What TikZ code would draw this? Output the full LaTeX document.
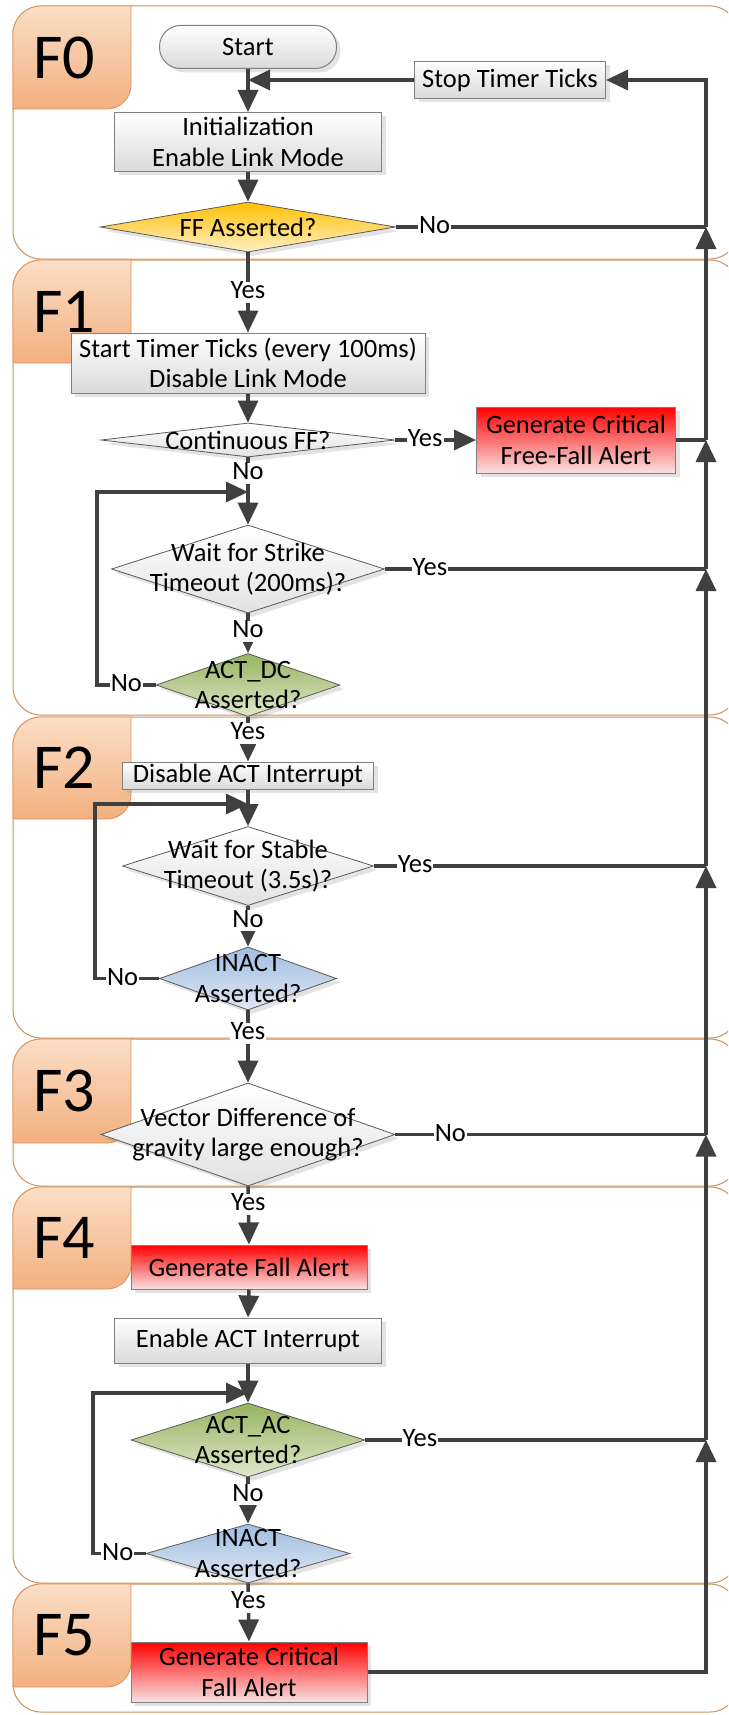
\documentclass[tikz,border=0pt]{standalone}
\usepackage{fontspec}
\setmainfont{Carlito}
\usetikzlibrary{shapes.geometric,arrows.meta,shadows}

\definecolor{wire}{RGB}{64,64,64}
\definecolor{laneline}{RGB}{205,145,95}
\definecolor{tabtop}{RGB}{251,222,198}
\definecolor{tabbot}{RGB}{242,176,128}
\definecolor{tabline}{RGB}{222,145,85}
\definecolor{boxline}{RGB}{128,128,128}
\definecolor{boxbot}{RGB}{218,218,218}
\definecolor{redbot}{RGB}{248,226,226}
\definecolor{goldtop}{RGB}{255,192,0}
\definecolor{goldbot}{RGB}{255,240,200}
\definecolor{greentop}{RGB}{150,180,95}
\definecolor{greenbot}{RGB}{222,232,202}
\definecolor{bluetop}{RGB}{160,189,225}
\definecolor{bluebot}{RGB}{224,232,243}
\definecolor{greybot}{RGB}{226,226,226}
\definecolor{dialine}{RGB}{90,90,90}

\tikzset{
  every node/.style={font=\fontsize{26.5}{30.5}\selectfont},
  softshadow/.style={drop shadow={opacity=0.22, shadow xshift=4pt, shadow yshift=-4pt}},
  procbox/.style={rectangle, draw=boxline, line width=1pt, top color=white,
    bottom color=boxbot, inner sep=0pt, align=center, softshadow},
  alertbox/.style={procbox, top color=red, bottom color=redbot},
  terminal/.style={procbox, rounded corners=21pt},
  decision/.style={diamond, draw=dialine, line width=0.8pt, inner sep=0pt,
    top color=white, bottom color=greybot, softshadow},
  dgold/.style={top color=goldtop, bottom color=goldbot},
  dgreen/.style={top color=greentop, bottom color=greenbot},
  dblue/.style={top color=bluetop, bottom color=bluebot},
  dtext/.style={align=center, inner sep=0pt},
  lbl/.style={fill=white, inner xsep=1pt, inner ysep=1pt, text height=16pt, text depth=3pt},
  conn/.style={draw=wire, line width=3.5pt},
  arr/.style={conn, -{Triangle[width=20pt,length=22pt]}},
  lanebox/.style={draw=laneline, line width=1pt, fill=white, rounded corners=28pt},
  tabfill/.style={draw=tabline, line width=0.8pt, top color=tabtop, bottom color=tabbot},
  tablbl/.style={font=\fontsize{64}{64}\selectfont, inner sep=0pt}
}

\begin{document}
\begin{tikzpicture}[x=1pt,y=-1pt]
\clip (0,0) rectangle (728,1715);
\fill[white] (0,0) rectangle (728,1715);

% swimlanes
\foreach \ltop/\lbot in {6/259,260/715,717/1038,1039/1186,1187/1583,1584/1712}
  \draw[lanebox] (13,\ltop) rectangle (738,\lbot);

% lane tabs with their titles
\foreach \ltop/\lbot/\lab in {6/109/F0,260/363/F1,717/819/F2,1039/1143/F3,1187/1289/F4,1584/1687/F5}{
  \draw[tabfill]
    (13,\lbot) -- (13,\ltop+28) .. controls (13,\ltop+12.5) and (25.5,\ltop) .. (41,\ltop)
    -- (131,\ltop) -- (131,\lbot-24) .. controls (131,\lbot-10.75) and (120.25,\lbot) .. (107,\lbot)
    -- cycle;
  \node[tablbl] (tab\lab) at (64,{(\ltop+\lbot)/2}) {\lab};
}

% F0
\node[terminal, minimum width=177pt, minimum height=43pt] (start) at (248,47) {Start};
\node[procbox, minimum width=191pt, minimum height=37pt] (stop) at (510,80) {Stop Timer Ticks};
\node[procbox, minimum width=267pt, minimum height=59pt] (init) at (248,142) {Initialization\\Enable Link Mode};
\node[decision, dgold, minimum width=295pt, minimum height=50pt] (ff) at (248,227) {};
\node[dtext] (ff-t) at (ff) {FF Asserted?};

% F1
\node[procbox, minimum width=354pt, minimum height=60pt] (timer) at (248,363) {Start Timer Ticks (every 100ms)\\Disable Link Mode};
\node[decision, minimum width=294pt, minimum height=34pt] (cff) at (248,440) {};
\node[dtext] (cff-t) at (cff) {Continuous FF?};
\node[alertbox, minimum width=199pt, minimum height=66pt] (crit1) at (576,440) {Generate Critical\\Free-Fall Alert};
\node[decision, minimum width=273pt, minimum height=88pt] (strike) at (248,569) {};
\node[dtext] (strike-t) at (strike) {Wait for Strike\\Timeout (200ms)?};
\node[decision, dgreen, minimum width=184pt, minimum height=63pt] (actdc) at (248,685) {};
\node[dtext] (actdc-t) at (actdc) {ACT\_DC\\Asserted?};

% F2
\node[procbox, minimum width=251pt, minimum height=27pt] (disact) at (248,775.5) {Disable ACT Interrupt};
\node[decision, minimum width=251pt, minimum height=79pt] (stable) at (248,866) {};
\node[dtext] (stable-t) at (stable) {Wait for Stable\\Timeout (3.5s)?};
\node[decision, dblue, minimum width=177pt, minimum height=63pt] (inact1) at (248,978.5) {};
\node[dtext] (inact1-t) at (inact1) {INACT\\Asserted?};

% F3
\node[decision, minimum width=294pt, minimum height=103pt] (vec) at (248,1134.5) {};
\node[dtext] (vec-t) at (vec) {Vector Difference of\\gravity large enough?};

% F4
\node[alertbox, minimum width=236pt, minimum height=44pt] (gfa) at (249,1267) {Generate Fall Alert};
\node[procbox, minimum width=267pt, minimum height=45pt] (enact) at (248,1340.5) {Enable ACT Interrupt};
\node[decision, dgreen, minimum width=234pt, minimum height=74pt] (actac) at (248,1440) {};
\node[dtext] (actac-t) at (actac) {ACT\_AC\\Asserted?};
\node[decision, dblue, minimum width=204pt, minimum height=59pt] (inact2) at (248,1553.5) {};
\node[dtext] (inact2-t) at (inact2) {INACT\\Asserted?};

% F5
\node[alertbox, minimum width=236pt, minimum height=60pt] (gcfa) at (249,1672) {Generate Critical\\Fall Alert};

% junction points of the return rail and the retry loops
\coordinate (j0) at (start.south |- stop.west);
\coordinate (r0) at (706,80);
\coordinate (r1) at (ff.east -| r0);
\coordinate (r2) at (crit1.east -| r0);
\coordinate (r3) at (strike.east -| r0);
\coordinate (r4) at (stable.east -| r0);
\coordinate (r5) at (vec.east -| r0);
\coordinate (r6) at (actac.east -| r0);
\coordinate (r7) at (gcfa.east -| r0);
\coordinate (m1) at (248,492);
\coordinate (m2) at (248,804);
\coordinate (m3) at (248,1393);
\coordinate (c1) at (97,685);
\coordinate (c2) at (95,978.5);
\coordinate (c3) at (93,1553.5);

% main flow
\draw[arr] (start.south) -- (init.north);
\draw[arr] (stop.west) -- (j0);
\draw[arr] (init.south) -- (ff.north);
\draw[arr] (ff.south) -- node[lbl,pos=0.5]{Yes} (timer.north);
\draw[arr] (timer.south) -- (cff.north);
\draw[arr] (cff.east) -- node[lbl,pos=0.37]{Yes} (crit1.west);
\draw[arr] (cff.south) -- node[lbl,pos=0.235]{No} (strike.north);
\draw[arr] (strike.south) -- node[lbl,pos=0.45]{No} (actdc.north);
\draw[arr] (actdc.west) -- node[lbl]{No} (c1) |- (m1);
\draw[arr] (actdc.south) -- node[lbl,pos=0.37]{Yes} (disact.north);
\draw[arr] (disact.south) -- (stable.north);
\draw[arr] (stable.south) -- node[lbl,pos=0.36]{No} (inact1.north);
\draw[arr] (inact1.west) -- node[lbl,pos=0.57]{No} (c2) |- (m2);
\draw[arr] (inact1.south) -- node[lbl,pos=0.315]{Yes} (vec.north);
\draw[arr] (vec.south) -- node[lbl,pos=0.305]{Yes} (gfa.north);
\draw[arr] (gfa.south) -- (enact.north);
\draw[arr] (enact.south) -- (actac.north);
\draw[arr] (actac.south) -- node[lbl,pos=0.38]{No} (inact2.north);
\draw[arr] (inact2.west) -- node[lbl,pos=0.53]{No} (c3) |- (m3);
\draw[arr] (inact2.south) -- node[lbl,pos=0.32]{Yes} (gcfa.north);

% return rail back to the timer stop
\draw[conn] (ff.east) -- node[lbl,pos=0.125]{No} (r1);
\draw[conn] (crit1.east) -- (r2);
\draw[conn] (strike.east) -- node[lbl,pos=0.14]{Yes} (r3);
\draw[conn] (stable.east) -- node[lbl,pos=0.124]{Yes} (r4);
\draw[conn] (vec.east) -- node[lbl,pos=0.177]{No} (r5);
\draw[conn] (actac.east) -- node[lbl,pos=0.16]{Yes} (r6);
\draw[arr] (gcfa.east) -- (r7) -- (r6);
\draw[arr] (r6) -- (r5);
\draw[arr] (r5) -- (r4);
\draw[arr] (r4) -- (r3);
\draw[arr] (r3) -- (r2);
\draw[arr] (r2) -- (r1);
\draw[arr] (r1) -- (r0) -- (stop.east);
\end{tikzpicture}
\end{document}
